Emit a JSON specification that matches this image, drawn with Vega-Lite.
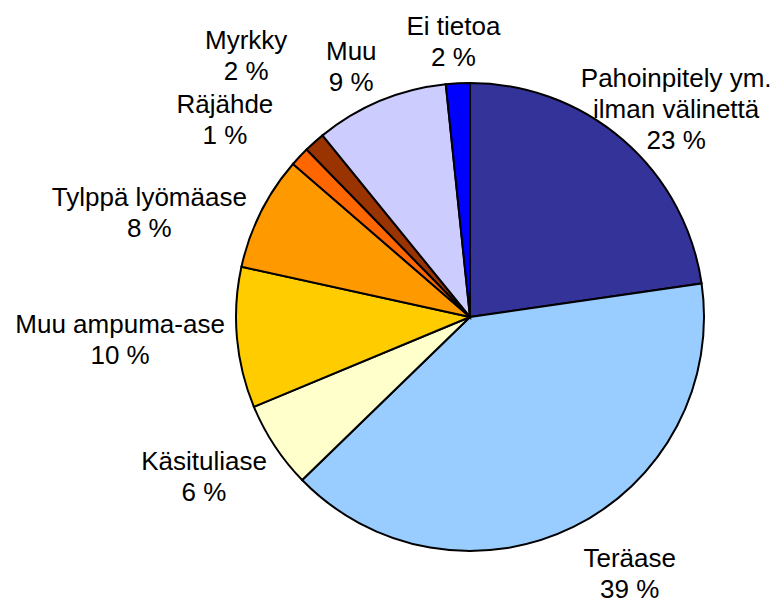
{
  "$schema": "https://vega.github.io/schema/vega-lite/v6.json",
  "width": 610,
  "height": 572,
  "autosize": {"type": "none"},
  "padding": {"left": 165, "top": 31, "right": 0, "bottom": 0},
  "background": "white",
  "view": {"stroke": null},
  "config": {
    "text": {"font": "Liberation Sans", "fontSize": 26, "lineBreak": "\n", "lineHeight": 31, "align": "center", "baseline": "middle", "color": "black"}
  },
  "data": {
    "values": [
      {"n": 1, "category": "Pahoinpitely ym. ilman välinettä", "share": 22.7, "label": "Pahoinpitely ym.\nilman välinettä\n23 %"},
      {"n": 2, "category": "Teräase", "share": 40.0, "label": "Teräase\n39 %"},
      {"n": 3, "category": "Käsituliase", "share": 6.0, "label": "Käsituliase\n6 %"},
      {"n": 4, "category": "Muu ampuma-ase", "share": 9.7, "label": "Muu ampuma-ase\n10 %"},
      {"n": 5, "category": "Tylppä lyömäase", "share": 7.9, "label": "Tylppä lyömäase\n8 %"},
      {"n": 6, "category": "Räjähde", "share": 1.35, "label": "Räjähde\n1 %"},
      {"n": 7, "category": "Myrkky", "share": 1.45, "label": "Myrkky\n2 %"},
      {"n": 8, "category": "Muu", "share": 9.2, "label": "Muu\n9 %"},
      {"n": 9, "category": "Ei tietoa", "share": 1.65, "label": "Ei tietoa\n2 %"}
    ]
  },
  "encoding": {
    "theta": {"field": "share", "type": "quantitative", "stack": true},
    "order": {"field": "n", "type": "quantitative"}
  },
  "layer": [
    {
      "mark": {"type": "arc", "radius": 234, "stroke": "black", "strokeWidth": 2},
      "encoding": {
        "color": {
          "field": "category",
          "type": "nominal",
          "legend": null,
          "scale": {
            "domain": ["Pahoinpitely ym. ilman välinettä", "Teräase", "Käsituliase", "Muu ampuma-ase", "Tylppä lyömäase", "Räjähde", "Myrkky", "Muu", "Ei tietoa"],
            "range": ["#333399", "#99CCFF", "#FFFFCC", "#FFCC00", "#FF9900", "#FF6600", "#993300", "#CCCCFF", "#0000FF"]
          }
        }
      }
    },
    {
      "mark": {"type": "text", "radius": 290},
      "encoding": {
        "theta": {"field": "share", "type": "quantitative", "stack": true, "bandPosition": 0.45},
        "text": {"condition": {"test": "indexof(['Teräase', 'Muu', 'Ei tietoa'], datum.category) >= 0", "field": "label", "type": "nominal"}, "value": ""}
      }
    },
    {
      "mark": {"type": "text", "radius": 315},
      "encoding": {
        "text": {"condition": {"test": "datum.category === 'Pahoinpitely ym. ilman välinettä'", "field": "label", "type": "nominal"}, "value": ""}
      }
    },
    {
      "mark": {"type": "text", "radius": 303},
      "encoding": {
        "theta": {"field": "share", "type": "quantitative", "stack": true, "bandPosition": 0.72},
        "text": {"condition": {"test": "datum.category === 'Käsituliase'", "field": "label", "type": "nominal"}, "value": ""}
      }
    },
    {
      "mark": {"type": "text", "radius": 350},
      "encoding": {
        "theta": {"field": "share", "type": "quantitative", "stack": true, "bandPosition": 0.61},
        "text": {"condition": {"test": "datum.category === 'Muu ampuma-ase'", "field": "label", "type": "nominal"}, "value": ""}
      }
    },
    {
      "mark": {"type": "text", "radius": 342},
      "encoding": {
        "theta": {"field": "share", "type": "quantitative", "stack": true, "bandPosition": 0.28},
        "text": {"condition": {"test": "datum.category === 'Tylppä lyömäase'", "field": "label", "type": "nominal"}, "value": ""}
      }
    },
    {
      "mark": {"type": "text", "radius": 324},
      "encoding": {
        "theta": {"field": "share", "type": "quantitative", "stack": true, "bandPosition": 0},
        "text": {"condition": {"test": "datum.category === 'Räjähde'", "field": "label", "type": "nominal"}, "value": ""}
      }
    },
    {
      "mark": {"type": "text", "radius": 355},
      "encoding": {
        "theta": {"field": "share", "type": "quantitative", "stack": true, "bandPosition": 1},
        "text": {"condition": {"test": "datum.category === 'Myrkky'", "field": "label", "type": "nominal"}, "value": ""}
      }
    }
  ]
}
